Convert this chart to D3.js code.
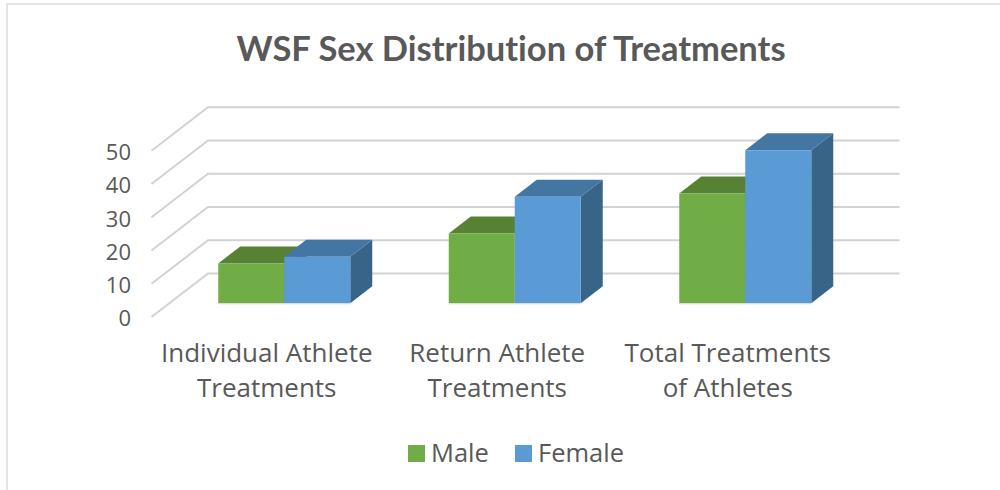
<!DOCTYPE html>
<html><head><meta charset="utf-8">
<script src="https://cdn.jsdelivr.net/npm/d3@7"></script>
<style>html,body{margin:0;padding:0;background:#fff;overflow:hidden}text{font-family:"Open Sans",sans-serif;fill:#595959;font-variant-ligatures:none}</style>
</head><body><svg id="c" width="1000" height="490"></svg>
<script>
const titleText = "WSF Sex Distribution of Treatments";
const categories = ["Individual Athlete Treatments","Return Athlete Treatments","Total Treatments of Athletes"];
const categoryLines = [["Individual Athlete","Treatments"],["Return Athlete","Treatments"],["Total Treatments","of Athletes"]];
const seriesNames = ["Male","Female"];
const male = [12,21,33];
const female = [14,32,46];
const yTicks = [0,10,20,30,40,50];
const colors = {Male:{front:"#70ad47",top:"#588233",side:"#43682b"},Female:{front:"#5b9bd5",top:"#4476a3",side:"#386488"}};
const values = {Male:male,Female:female};

const svg = d3.select("#c");
svg.append("path").attr("d","M7,490V4H1000").attr("stroke","#dcdcdc").attr("stroke-width",1.6).attr("fill","none");
svg.append("text").attr("x",511).attr("y",61).attr("text-anchor","middle").attr("font-size",34.5).attr("font-weight",700)
  .style("font-family","Lato,sans-serif").text(titleText);

const y = d3.scaleLinear().domain([0,50]).range([317,150.7]);
const x0 = d3.scaleBand().domain(categories).range([151.5,843]);
const depth = {dx:56.5,dy:-43.5}, barDepth = {dx:22,dy:-17}, barOff = {dx:17.5,dy:-13.7};
const x1 = d3.scaleBand().domain(seriesNames).range([-66,66]);

// gridlines
const grid = svg.append("g").attr("fill","none").attr("stroke","#d2d2d2").attr("stroke-width",2);
yTicks.forEach(t=>{
  const p=d3.path();
  p.moveTo(x0.range()[0],y(t));
  p.lineTo(x0.range()[0]+depth.dx,y(t)+depth.dy);
  p.lineTo(x0.range()[1]+depth.dx,y(t)+depth.dy);
  grid.append("path").attr("d",p.toString());
});

// y axis
const yAxis = svg.append("g").attr("transform","translate(131,1)").call(d3.axisLeft(y).tickValues(yTicks).tickSize(0).tickPadding(0));
yAxis.select(".domain").remove();
yAxis.selectAll("text").attr("font-size",22).attr("dy","0.36em").style("font-family","'Open Sans',sans-serif").attr("fill","#595959");

// bars
const bars = svg.append("g");
categories.forEach((c,i)=>{
  const cx = x0(c)+x0.bandwidth()/2+barOff.dx;
  const base = y(0)+barOff.dy;
  seriesNames.forEach(s=>{
    const v = values[s][i], col = colors[s];
    const l = cx+x1(s), w = x1.bandwidth(), h = y(0)-y(v), t = base-h, r = l+w;
    const {dx,dy} = barDepth;
    const poly=(pts,f)=>bars.append("polygon").attr("points",pts.map(p=>p.join(",")).join(" ")).attr("fill",f);
    poly([[r,t],[r+dx,t+dy],[r+dx,base+dy],[r,base]],col.side);
    poly([[l,t],[l+dx,t+dy],[r+dx,t+dy],[r,t]],col.top);
    poly([[l,t],[r,t],[r,base],[l,base]],col.front);
  });
  bars.append("line").attr("x1",cx-66).attr("x2",cx+66).attr("y1",base+.5).attr("y2",base+.5).attr("stroke","#d9d9d9").attr("stroke-width",1);
});

// category labels
const xl = svg.append("g").attr("font-size",26).attr("text-anchor","middle");
categories.forEach((c,i)=>{
  const cx=x0(c)+x0.bandwidth()/2;
  categoryLines[i].forEach((ln,j)=>xl.append("text").attr("x",cx).attr("y",362+j*35).text(ln));
});

// legend
const lx = d3.scaleOrdinal().domain(seriesNames).range([408,515]);
seriesNames.forEach(s=>{
  svg.append("rect").attr("x",lx(s)).attr("y",445).attr("width",17).attr("height",17).attr("fill",colors[s].front);
  svg.append("text").attr("x",lx(s)+23).attr("y",462).attr("font-size",25.5).text(s);
});
</script></body></html>
